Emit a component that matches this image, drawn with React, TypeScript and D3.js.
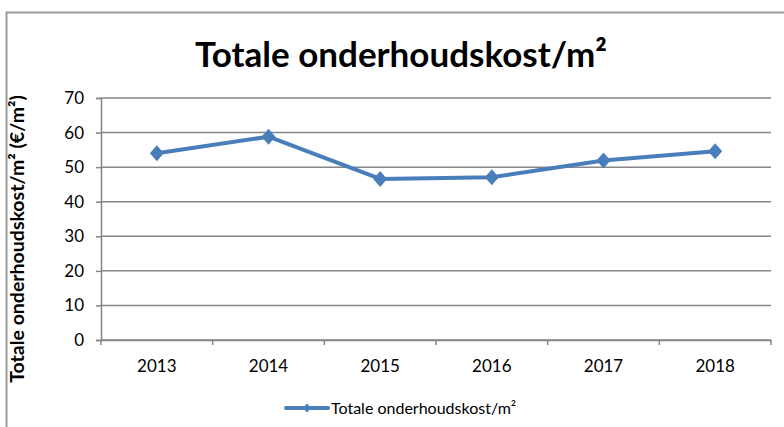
import React, {useEffect, useRef} from 'react';
import * as d3 from 'd3';

const years = ['2013', '2014', '2015', '2016', '2017', '2018'];
const kost = [54.0, 58.8, 46.6, 47.1, 51.9, 54.6];
const yTicks = [0, 10, 20, 30, 40, 50, 60, 70];

const title = 'Totale onderhoudskost/m²';
const yLabel = 'Totale onderhoudskost/m² (€/m²)';
const seriesName = 'Totale onderhoudskost/m²';

const W = 784;
const H = 427;
const FONT = 'Lato, "Open Sans", sans-serif';
const BLUE = '#4a7ebb';
const GREY = '#868686';

// rhombus marker, w wide and h tall
const rhombus = (w: number, h: number) => `M0,${-h / 2}L${w / 2},0L0,${h / 2}L${-w / 2},0Z`;

const App = () => {
  const ref = useRef<SVGSVGElement>(null);

  useEffect(() => {
    const svg = d3.select(ref.current);
    svg.selectAll('*').remove();

    // outer chart frame (only left and top visible)
    svg
      .append('path')
      .attr('d', `M6.5,${H + 5}V12.5H${W + 5}`)
      .attr('fill', 'none')
      .attr('stroke', '#9a9a9a')
      .attr('stroke-width', 2);

    const margin = {top: 98, left: 101, right: 13, bottom: 87};
    const width = W - margin.left - margin.right;
    const height = H - margin.top - margin.bottom;

    const g = svg
      .append('g')
      .attr('transform', `translate(${margin.left}, ${margin.top})`);

    const x = d3.scaleBand().domain(years).range([0, width]);
    const y = d3.scaleLinear().domain([0, 70]).range([height, 0]);

    // gridlines
    g.selectAll('.grid')
      .data(yTicks)
      .enter()
      .append('line')
      .attr('x1', 0)
      .attr('x2', width)
      .attr('y1', d => y(d))
      .attr('y2', d => y(d))
      .attr('stroke', GREY)
      .attr('stroke-width', 1.5);

    // y axis
    const yAxis = g
      .append('g')
      .call(d3.axisLeft(y).tickValues(yTicks).tickSize(5).tickPadding(12));
    yAxis.select('.domain').attr('stroke', GREY).attr('stroke-width', 1.5);
    yAxis.selectAll('line').attr('stroke', GREY).attr('stroke-width', 1.5);
    yAxis
      .selectAll('text')
      .attr('font-family', FONT)
      .attr('font-size', 17)
      .attr('fill', '#000');

    // x axis
    const xAxis = g
      .append('g')
      .attr('transform', `translate(0, ${height})`)
      .call(d3.axisBottom(x).tickSize(0).tickPadding(20));
    xAxis.select('.domain').attr('stroke', GREY).attr('stroke-width', 1.5);
    xAxis
      .selectAll('text')
      .attr('font-family', FONT)
      .attr('font-size', 17)
      .attr('fill', '#000');
    g.selectAll('.xtick')
      .data(d3.range(years.length + 1))
      .enter()
      .append('line')
      .attr('x1', i => i * x.step())
      .attr('x2', i => i * x.step())
      .attr('y1', height)
      .attr('y2', height + 5)
      .attr('stroke', GREY)
      .attr('stroke-width', 1.5);

    // line
    const pts = years.map((yr, i) => [x(yr)! + x.bandwidth() / 2, y(kost[i])] as [number, number]);
    g.append('path')
      .attr('d', d3.line()(pts))
      .attr('fill', 'none')
      .attr('stroke', BLUE)
      .attr('stroke-width', 4)
      .attr('stroke-linejoin', 'round');

    g.selectAll('.pt')
      .data(pts)
      .enter()
      .append('path')
      .attr('d', rhombus(14, 16))
      .attr('transform', d => `translate(${d[0]}, ${d[1]})`)
      .attr('fill', BLUE);

    // title
    svg
      .append('text')
      .attr('x', 401)
      .attr('y', 67)
      .attr('text-anchor', 'middle')
      .attr('font-family', FONT)
      .attr('font-weight', 'bold')
      .attr('font-size', 35)
      .text(title);

    // y label
    svg
      .append('text')
      .attr('transform', `translate(24, ${margin.top + height / 2 + 20}) rotate(-90)`)
      .attr('text-anchor', 'middle')
      .attr('font-family', FONT)
      .attr('font-weight', 'bold')
      .attr('font-size', 19.5)
      .text(yLabel);

    // legend
    const lg = svg.append('g').attr('transform', 'translate(286, 408)');
    lg.append('line')
      .attr('x1', 0)
      .attr('x2', 42)
      .attr('stroke', BLUE)
      .attr('stroke-width', 4)
      .attr('stroke-linecap', 'round');
    lg.append('path')
      .attr('d', rhombus(8, 9))
      .attr('transform', 'translate(21, 0)')
      .attr('fill', BLUE);
    lg.append('text')
      .attr('x', 45)
      .attr('y', 5.5)
      .attr('font-family', FONT)
      .attr('font-size', 16)
      .text(seriesName);
  }, []);

  return (
    <svg
      ref={ref}
      width={W}
      height={H}
      style={{position: 'absolute', left: 0, top: 0, background: '#fff'}}
    />
  );
};

export default App;
